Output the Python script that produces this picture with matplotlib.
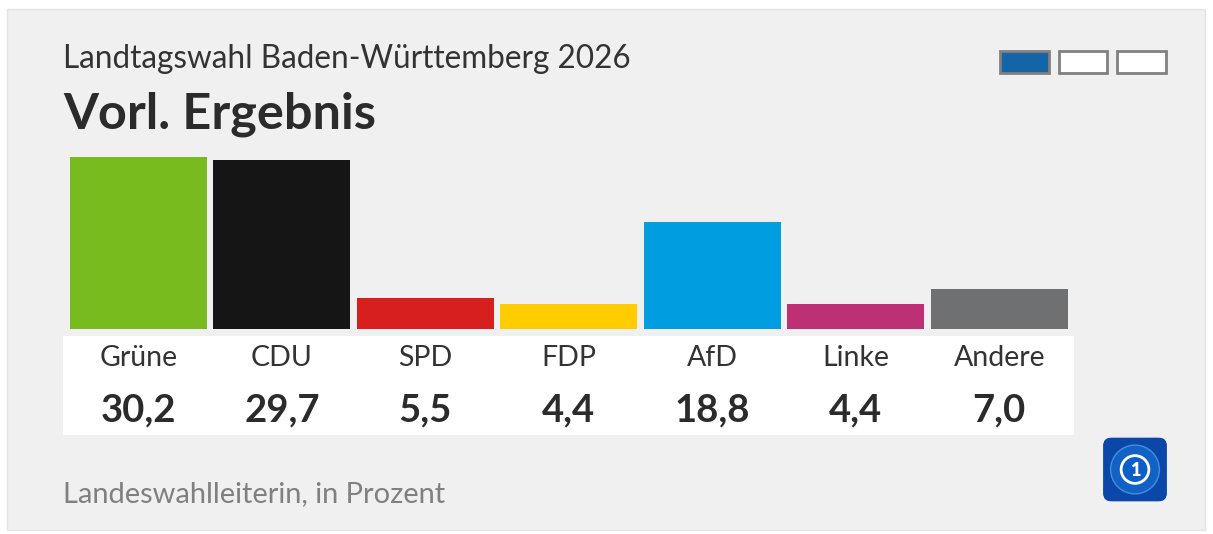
import numpy as np
import matplotlib.pyplot as plt
from matplotlib.patches import Rectangle, FancyBboxPatch, Circle
from matplotlib.transforms import blended_transform_factory
from matplotlib.colors import LinearSegmentedColormap

parties = ["Grüne", "CDU", "SPD", "FDP", "AfD", "Linke", "Andere"]
shares = [30.2, 29.7, 5.5, 4.4, 18.8, 4.4, 7.0]
colors = ["#78bb1e", "#151515", "#d71f1d", "#ffcc00", "#009ee0", "#be3075", "#6f7072"]
labels = ["30,2", "29,7", "5,5", "4,4", "18,8", "4,4", "7,0"]

W, H = 1213, 534
FONT = "Lato"
TXT = "#2b2b2b"


def fx(px):
    return px / W


def fy(py):
    return 1 - py / H


def px_rect(x0, y0, x1, y1, **kw):
    # rectangle given in pixel coords (top-left origin)
    return Rectangle((fx(x0), fy(y1)), fx(x1) - fx(x0), fy(y0) - fy(y1),
                     transform=fig.transFigure, **kw)


fig = plt.figure(figsize=(W / 100, H / 100), dpi=100)
fig.patch.set_facecolor("white")

# panel background
fig.patches.append(px_rect(7, 9, 1205, 530, facecolor="#f0f0f0",
                           edgecolor="#e4e4e4", linewidth=1, zorder=-2))
# white label strip
fig.patches.append(px_rect(63, 336, 1074, 435, facecolor="white",
                           edgecolor="none", zorder=-1))

# pagination boxes
for i, (x0, x1) in enumerate([(1000, 1049), (1059, 1107), (1117, 1166)]):
    fig.patches.append(px_rect(x0, 51, x1, 73,
                               facecolor="#1464a8" if i == 0 else "white",
                               edgecolor="#808080", linewidth=2, zorder=2))

# bars
ax = fig.add_axes([fx(66.5), fy(329), fx(1071) - fx(66.5), fy(150) - fy(329)])
ax.set_zorder(5)
ax.patch.set_alpha(0)
x = np.arange(len(parties))
ax.bar(x, shares, width=0.955, color=colors, edgecolor="none")
ax.set_xlim(-0.5, len(parties) - 0.5)
ax.set_ylim(0, 179 / 5.7)
ax.axis("off")

trans = blended_transform_factory(ax.transData, fig.transFigure)
for i, (name, lab) in enumerate(zip(parties, labels)):
    ax.text(i, fy(366), name, transform=trans, ha="center", va="baseline",
            fontsize=20.5, family=FONT, color="#333333", clip_on=False)
    ax.text(i, fy(421.7), lab, transform=trans, ha="center", va="baseline",
            fontsize=27.5, family=FONT, weight="bold", color=TXT, clip_on=False)

# titles and footer
fig.text(fx(63), fy(68.3), "Landtagswahl Baden-Württemberg 2026", ha="left", va="baseline",
         fontsize=22.7, family=FONT, color="#333333")
fig.text(fx(63), fy(128.3), "Vorl. Ergebnis", ha="left", va="baseline",
         fontsize=36.3, family=FONT, weight="bold", color=TXT)
fig.text(fx(63), fy(502.3), "Landeswahlleiterin, in Prozent", ha="left", va="baseline",
         fontsize=20.9, family=FONT, color="#808080")

# logo
lax = fig.add_axes([fx(1102), fy(503), fx(1168) - fx(1102), fy(436) - fy(503)])
lax.set_zorder(5)
lax.set_xlim(0, 1)
lax.set_ylim(0, 1)
lax.axis("off")
box = FancyBboxPatch((0.02, 0.02), 0.96, 0.96, boxstyle="round,pad=0,rounding_size=0.12",
                     facecolor="#0a47a8", edgecolor="none")
lax.add_patch(box)
yy, xx = np.mgrid[0:1:200j, 0:1:200j]
r = np.hypot(xx - 0.45, yy - 0.6)
grad = np.clip(1 - r * 1.6, 0, 1)
cmap = LinearSegmentedColormap.from_list("tb", ["#06307e", "#0b5cc8", "#5bb6f5"])
img = lax.imshow(grad, extent=(0, 1, 0, 1), origin="lower", cmap=cmap, vmin=0, vmax=1)
img.set_clip_path(box)
lax.add_patch(Circle((0.5, 0.5), 0.37, facecolor="#1a78dc", edgecolor="#6cc0f8",
                     linewidth=1, alpha=0.55))
lax.add_patch(Circle((0.5, 0.5), 0.21, facecolor="#0b5fc8", edgecolor="white", linewidth=2))
lax.text(0.5, 0.49, "1", ha="center", va="center", fontsize=13, family=FONT,
         weight="heavy", color="white")

fig.savefig("out.png", dpi=100)
